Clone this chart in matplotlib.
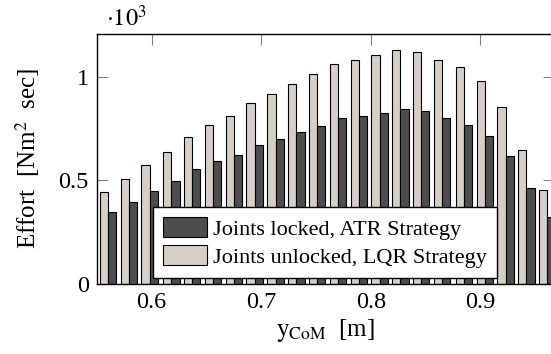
import numpy as np
import matplotlib
matplotlib.use('Agg')
import matplotlib.pyplot as plt

# y_CoM positions [m]
y_com = [0.560, 0.579, 0.598, 0.618, 0.637, 0.656, 0.675, 0.694, 0.713, 0.732, 0.751,
         0.770, 0.789, 0.808, 0.827, 0.846, 0.865, 0.885, 0.904, 0.923, 0.942, 0.961]
# effort, in units of 10^3 Nm^2 sec
locked_atr = [0.348, 0.397, 0.450, 0.498, 0.553, 0.595, 0.623, 0.670, 0.700, 0.732, 0.764,
              0.800, 0.812, 0.827, 0.843, 0.835, 0.803, 0.768, 0.712, 0.619, 0.465, 0.325]
unlocked_lqr = [0.442, 0.506, 0.575, 0.639, 0.710, 0.768, 0.809, 0.873, 0.918, 0.965, 1.013,
                1.061, 1.083, 1.107, 1.128, 1.120, 1.083, 1.045, 0.978, 0.856, 0.647, 0.452]

plt.rcParams['font.family'] = 'Liberation Serif'
plt.rcParams['mathtext.fontset'] = 'stix'

fig = plt.figure(figsize=(5.51, 3.54), dpi=100)
ax = fig.add_axes([0.176, 0.198, 0.83, 0.707])

x = np.array(y_com)
w = 0.0075
ax.bar(x - w / 2, unlocked_lqr, width=w, color='#d4d0c8', edgecolor='black', linewidth=0.8,
       label='Joints unlocked, LQR Strategy', zorder=2)
ax.bar(x + w / 2, locked_atr, width=w, color='#4d4d4d', edgecolor='black', linewidth=0.8,
       label='Joints locked, ATR Strategy', zorder=2)

ax.set_xlim(0.55, 0.9675)
ax.set_ylim(0, 1.208)
ax.set_xticks([0.6, 0.7, 0.8, 0.9])
ax.set_xticklabels(['0.6', '0.7', '0.8', '0.9'])
ax.set_yticks([0, 0.5, 1])
ax.set_yticklabels(['0', '0.5', '1'])
ax.tick_params(direction='in', length=8, width=0.8, color='#808080',
               top=True, right=True, labelsize=17.5, pad=6)
for s in ax.spines.values():
    s.set_linewidth(1.0)

ax.set_xlabel(r'$\mathrm{y}_{\mathrm{CoM}}$  [m]', fontsize=18, labelpad=3)
ax.set_ylabel(r'Effort  [Nm$^2$  sec]', fontsize=18, labelpad=12)
fig.text(0.193, 0.925, r'$\cdot 10^3$', fontsize=17.5, ha='left', va='baseline')

h, l = ax.get_legend_handles_labels()
leg = ax.legend(h[::-1], l[::-1], loc='lower left', bbox_to_anchor=(0.122, 0.024),
                fontsize=16, frameon=True, fancybox=False, edgecolor='black',
                framealpha=1, handlelength=2.0, handleheight=1.0, borderpad=0.45,
                labelspacing=0.25, handletextpad=0.25, borderaxespad=0)
leg.get_frame().set_linewidth(1.0)

fig.savefig('out.png', dpi=100)
